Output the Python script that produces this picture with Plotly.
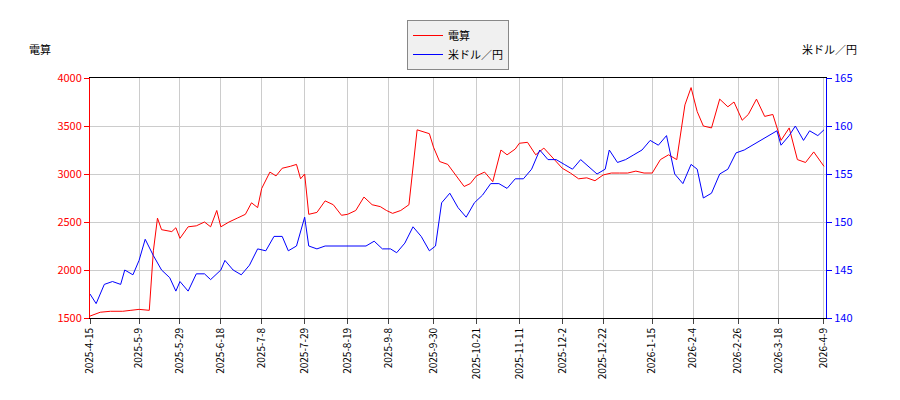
import plotly.graph_objects as go

r_dates = ["2025-04-15","2025-04-20","2025-04-25","2025-05-01","2025-05-05","2025-05-09","2025-05-14","2025-05-16","2025-05-18","2025-05-20","2025-05-25","2025-05-27","2025-05-29","2025-06-02","2025-06-06","2025-06-10","2025-06-13","2025-06-16","2025-06-18","2025-06-22","2025-06-26","2025-06-30","2025-07-03","2025-07-06","2025-07-08","2025-07-12","2025-07-15","2025-07-18","2025-07-22","2025-07-25","2025-07-27","2025-07-29","2025-07-31","2025-08-04","2025-08-08","2025-08-12","2025-08-16","2025-08-19","2025-08-23","2025-08-27","2025-08-31","2025-09-04","2025-09-07","2025-09-10","2025-09-14","2025-09-18","2025-09-22","2025-09-25","2025-09-28","2025-09-30","2025-10-03","2025-10-07","2025-10-11","2025-10-15","2025-10-18","2025-10-21","2025-10-25","2025-10-29","2025-11-02","2025-11-05","2025-11-09","2025-11-11","2025-11-15","2025-11-19","2025-11-23","2025-11-27","2025-12-02","2025-12-06","2025-12-10","2025-12-14","2025-12-18","2025-12-22","2025-12-26","2025-12-30","2026-01-03","2026-01-07","2026-01-11","2026-01-15","2026-01-19","2026-01-23","2026-01-27","2026-01-31","2026-02-03","2026-02-06","2026-02-09","2026-02-13","2026-02-17","2026-02-21","2026-02-24","2026-02-28","2026-03-03","2026-03-07","2026-03-11","2026-03-15","2026-03-19","2026-03-23","2026-03-27","2026-03-31","2026-04-04","2026-04-09"]
r_vals = [1520,1560,1570,1570,1580,1590,1580,2200,2540,2420,2400,2440,2330,2450,2460,2500,2450,2620,2450,2500,2540,2580,2700,2650,2850,3020,2980,3060,3080,3100,2950,3000,2580,2600,2720,2680,2570,2580,2620,2760,2680,2660,2620,2590,2620,2680,3460,3440,3420,3280,3130,3100,2980,2870,2900,2980,3020,2920,3250,3200,3260,3320,3330,3200,3270,3180,3060,3010,2950,2960,2930,2990,3010,3010,3010,3030,3010,3010,3150,3200,3150,3720,3900,3650,3500,3480,3780,3700,3750,3560,3620,3780,3600,3620,3350,3480,3150,3120,3230,3080]

b_dates = ["2025-04-15","2025-04-18","2025-04-22","2025-04-26","2025-04-30","2025-05-02","2025-05-06","2025-05-09","2025-05-12","2025-05-16","2025-05-20","2025-05-24","2025-05-27","2025-05-29","2025-06-02","2025-06-06","2025-06-10","2025-06-13","2025-06-18","2025-06-20","2025-06-24","2025-06-28","2025-07-02","2025-07-06","2025-07-10","2025-07-14","2025-07-18","2025-07-21","2025-07-25","2025-07-29","2025-07-31","2025-08-04","2025-08-08","2025-08-12","2025-08-16","2025-08-20","2025-08-24","2025-08-28","2025-09-01","2025-09-05","2025-09-09","2025-09-12","2025-09-16","2025-09-20","2025-09-24","2025-09-28","2025-10-01","2025-10-04","2025-10-08","2025-10-12","2025-10-16","2025-10-20","2025-10-24","2025-10-28","2025-11-01","2025-11-05","2025-11-09","2025-11-13","2025-11-17","2025-11-21","2025-11-25","2025-11-29","2025-12-03","2025-12-07","2025-12-11","2025-12-15","2025-12-19","2025-12-23","2025-12-25","2025-12-29","2026-01-02","2026-01-06","2026-01-10","2026-01-14","2026-01-18","2026-01-22","2026-01-26","2026-01-30","2026-02-03","2026-02-06","2026-02-09","2026-02-13","2026-02-17","2026-02-21","2026-02-25","2026-03-01","2026-03-05","2026-03-09","2026-03-13","2026-03-17","2026-03-19","2026-03-23","2026-03-26","2026-03-30","2026-04-02","2026-04-06","2026-04-09"]
b_vals = [142.5,141.5,143.5,143.8,143.5,145.0,144.5,146,148.2,146.5,145,144.2,142.8,143.8,142.8,144.6,144.6,144,145,146,145,144.5,145.5,147.2,147,148.5,148.5,147,147.5,150.5,147.5,147.2,147.5,147.5,147.5,147.5,147.5,147.5,148,147.2,147.2,146.8,147.8,149.5,148.5,147,147.5,152,153,151.5,150.5,152,152.8,154,154,153.5,154.5,154.5,155.5,157.5,156.5,156.5,156,155.5,156.5,155.8,155,155.5,157.5,156.2,156.5,157,157.5,158.5,158,159,155,154,156,155.5,152.5,153,155,155.5,157.2,157.5,158,158.5,159,159.5,158,159,160,158.5,159.5,159,159.6]

tick_vals = ["2025-04-15","2025-05-09","2025-05-29","2025-06-18","2025-07-08","2025-07-29","2025-08-19","2025-09-08","2025-09-30","2025-10-21","2025-11-11","2025-12-02","2025-12-22","2026-01-15","2026-02-04","2026-02-26","2026-03-18","2026-04-09"]
tick_text = ["2025-4-15","2025-5-9","2025-5-29","2025-6-18","2025-7-8","2025-7-29","2025-8-19","2025-9-8","2025-9-30","2025-10-21","2025-11-11","2025-12-2","2025-12-22","2026-1-15","2026-2-4","2026-2-26","2026-3-18","2026-4-9"]

fig = go.Figure()
fig.add_trace(go.Scatter(x=r_dates, y=r_vals, name="電算", mode="lines", line=dict(color="red", width=1)))
fig.add_trace(go.Scatter(x=b_dates, y=b_vals, name="米ドル／円", mode="lines", line=dict(color="blue", width=1), yaxis="y2"))
fig.update_layout(
    width=900, height=400, margin=dict(l=82, r=82, t=70, b=90, autoexpand=False),
    paper_bgcolor="white", plot_bgcolor="white",
    font=dict(family="Noto Sans CJK JP", size=11, color="black"),
    showlegend=True,
    legend=dict(x=0.5, y=0.97, xref="container", yref="container", xanchor="center", yanchor="top",
                bordercolor="#888", borderwidth=1, bgcolor="#f0f0f0", font=dict(size=11)),
    xaxis=dict(range=["2025-04-15","2026-04-10"], tickvals=tick_vals, ticktext=tick_text, tickangle=-90,
               tickfont=dict(size=10), automargin=False,
               showgrid=True, gridcolor="#ccc", showline=True, linecolor="black", mirror=True, ticks="outside"),
    yaxis=dict(range=[1500,4000], dtick=500, showgrid=True, gridcolor="#ccc", showline=True, linecolor="red",
               automargin=False, tickfont=dict(color="red"), ticks="outside", tickcolor="red"),
    yaxis2=dict(range=[140,165], dtick=5, overlaying="y", side="right", showgrid=False, showline=True,
                automargin=False, linecolor="blue", tickfont=dict(color="blue"), ticks="outside", tickcolor="blue"),
    annotations=[
        dict(text="電算", xref="paper", yref="paper", x=-0.085, y=1.08, xanchor="left", yanchor="bottom", showarrow=False),
        dict(text="米ドル／円", xref="paper", yref="paper", x=1.045, y=1.08, xanchor="right", yanchor="bottom", showarrow=False),
    ],
)
fig.write_html("out.html")
